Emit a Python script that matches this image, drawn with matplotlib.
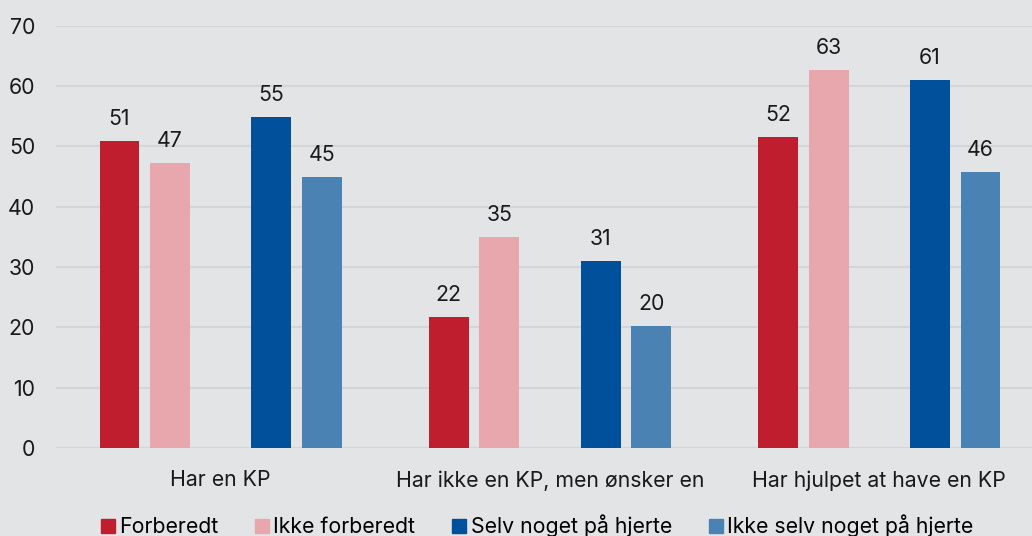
"""
Grouped bar chart: KP (kontaktperson) by preparedness / having something on the heart
"""

import matplotlib.pyplot as plt
from matplotlib.patches import Rectangle
import numpy as np

plt.rcParams['font.family'] = ['Inter', 'DejaVu Sans']

categories = ['Har en KP', 'Har ikke en KP, men ønsker en', 'Har hjulpet at have en KP']
series = ['Forberedt', 'Ikke forberedt', 'Selv noget på hjerte', 'Ikke selv noget på hjerte']
forberedt = [50.8, 21.7, 51.5]
ikke_forberedt = [47.2, 35.0, 62.7]
selv_hjerte = [54.9, 30.9, 60.9]
ikke_selv_hjerte = [44.9, 20.2, 45.7]

colors = ['#BE1E2D', '#E8A7AC', '#00509B', '#4A82B4']
bg = '#E3E4E6'
grid_col = '#D4D5D7'
fs = 15.3

fig = plt.figure(figsize=(10.32, 5.36), dpi=100, facecolor=bg)
ax = fig.add_axes([56 / 1032, 88 / 536, 988 / 1032, 422.5 / 536], facecolor=bg)

x = np.arange(len(categories))
slot = 0.1536
width = 0.1214
offsets = [-2, -1, 1, 2]
all_vals = [forberedt, ikke_forberedt, selv_hjerte, ikke_selv_hjerte]
for vals, off, col, name in zip(all_vals, offsets, colors, series):
    bars = ax.bar(x + off * slot, vals, width, color=col, label=name, zorder=3)
    for b, v in zip(bars, vals):
        ax.annotate('%d' % round(v), (b.get_x() + b.get_width() / 2, v),
                    xytext=(0, 12), textcoords='offset pixels',
                    ha='center', va='bottom', fontsize=fs, color='#1a1a1a')

ax.set_xlim(-0.5, 2.5)
ax.set_ylim(0, 70)
ax.set_yticks(range(0, 71, 10))
ax.set_xticks(x)
ax.set_xticklabels(categories)
ax.tick_params(axis='both', length=0, labelsize=fs, colors='#1a1a1a')
ax.tick_params(axis='y', pad=15)
ax.tick_params(axis='x', pad=16)
ax.grid(axis='y', color=grid_col, linewidth=1.5, zorder=0)
for s in ax.spines.values():
    s.set_visible(False)

handles = [Rectangle((0, 0), 1, 1, color=c) for c in colors]
fig.legend(handles, series, loc='lower center', bbox_to_anchor=(537 / 1032, -0.038),
           ncol=4, frameon=False, fontsize=fs, handlelength=0.65, handleheight=0.65,
           handletextpad=0.2, columnspacing=1.75)

plt.savefig('out.png', dpi=100, facecolor=bg)
